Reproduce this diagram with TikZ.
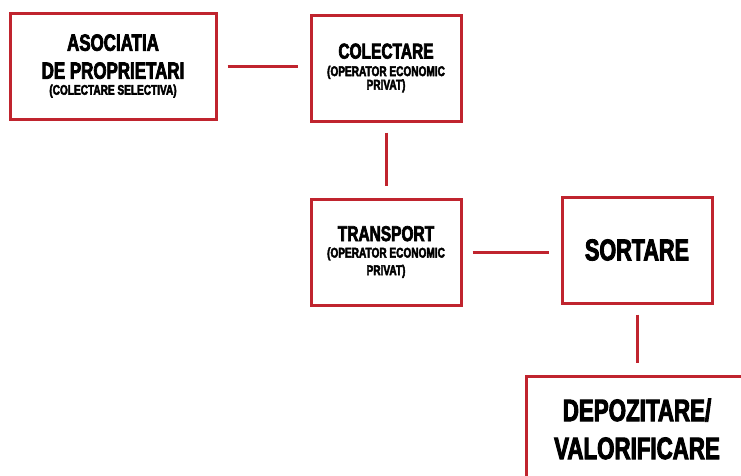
\documentclass[tikz,border=0pt]{standalone}
\usepackage{fontspec}
\setmainfont{Liberation Sans}
\newfontfamily\heavy[FakeStretch=0.72,BoldFeatures={FakeBold=3}]{Liberation Sans}
\usepackage{tikz}
\definecolor{boxred}{RGB}{192,36,46}
\newcommand\smalltxt{\fontsize{14}{15}\selectfont}

\begin{document}
\begin{tikzpicture}[
  x=1pt, y=-1pt,
  box/.style={draw=boxred,line width=3pt,rectangle,minimum width=150pt,minimum height=106pt,
    inner sep=0pt,align=center},
  link/.style={draw=boxred,line width=3pt,shorten <=10pt,shorten >=12pt}
]
  \useasboundingbox (0,0) rectangle (741,475);

  % boxes
  \node[box,minimum width=206pt,font=\heavy\bfseries\fontsize{23.5}{28}\selectfont] (asoc) at (113,66)
    {ASOCIATIA\\DE PROPRIETARI\\[-12pt]\smalltxt (COLECTARE SELECTIVA)};
  \node[box,font=\heavy\bfseries\fontsize{21.5}{17.5}\selectfont] (colect) at (386,68)
    {COLECTARE\\\smalltxt (OPERATOR ECONOMIC\\[-4pt]\smalltxt PRIVAT)};
  \node[box,font=\heavy\bfseries\fontsize{21.5}{16.5}\selectfont] (transp) at (386,252)
    {TRANSPORT\\\smalltxt (OPERATOR ECONOMIC\\[1pt]\smalltxt PRIVAT)};
  \node[box,font=\heavy\bfseries\fontsize{30}{36}\selectfont] (sort) at (637,250) {SORTARE};
  \node[box,minimum width=222pt,font=\heavy\bfseries\fontsize{31}{38}\selectfont] (depoz) at (637,429)
    {DEPOZITARE/\\VALORIFICARE};

  % connectors
  \draw[link] (asoc) -- (asoc -| colect.west);
  \draw[link] (colect) -- (transp);
  \draw[link] (transp) -- (transp -| sort.west);
  \draw[link] (sort) -- (sort |- depoz.north);

\end{tikzpicture}
\end{document}
